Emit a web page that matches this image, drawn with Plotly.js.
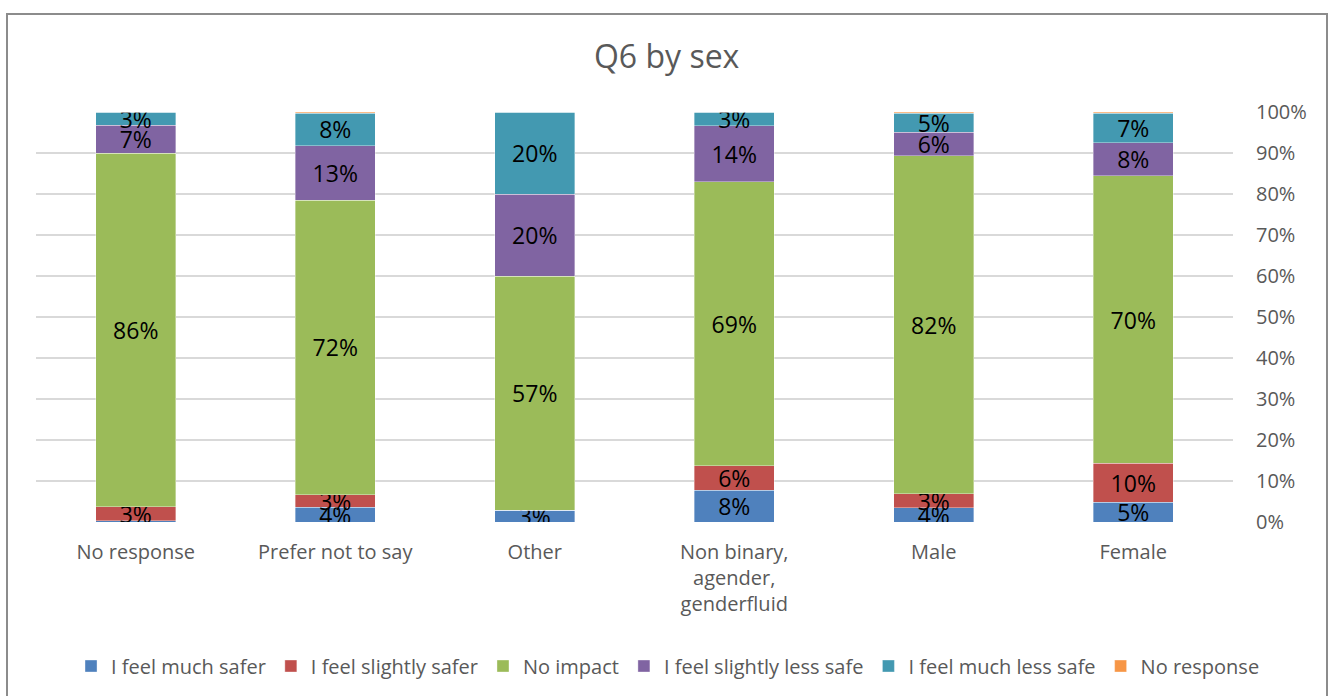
<!DOCTYPE html>
<html><head><meta charset="utf-8">
<script src="https://cdn.plot.ly/plotly-3.0.1.min.js"></script>
<style>
html,body{margin:0;padding:0;background:#fff;overflow:hidden;}
#chart{position:absolute;left:0;top:0;width:1328px;height:696px;}
#frame{position:absolute;left:6px;top:13px;width:1318px;height:700px;border:2px solid #8c8c8c;pointer-events:none;}
</style></head>
<body>
<div id="chart"></div>
<div id="frame"></div>
<script>
const categories = ["No response", "Prefer not to say", "Other", "Non binary,<br>agender,<br>genderfluid", "Male", "Female"];
const seriesNames = ["I feel much safer", "I feel slightly safer", "No impact", "I feel slightly less safe", "I feel much less safe", "No response"];
const muchSafer     = [0.3, 3.6, 2.86, 7.7, 3.5, 4.8];
const slightlySafer = [3.4, 3.1, 0, 6.0, 3.4, 9.5];
const noImpact      = [86.2, 71.8, 57.14, 69.3, 82.4, 70.1];
const slightlyLess  = [6.9, 13.3, 20, 13.6, 5.8, 8.1];
const muchLess      = [3.2, 7.9, 20, 3.4, 4.6, 7.2];
const noResponse    = [0, 0.3, 0, 0, 0.3, 0.3];
const colors = ["#4F81BD", "#C0504D", "#9BBB59", "#8064A2", "#4399B1", "#F79646"];

const font = "'Open Sans', 'Liberation Sans', sans-serif";
const series = [muchSafer, slightlySafer, noImpact, slightlyLess, muchLess, noResponse];
const traces = series.map((vals, i) => ({
  type: "bar",
  name: seriesNames[i],
  x: categories,
  y: vals.map(v => v / 100),
  text: vals.map(v => Math.round(v) >= 1 ? Math.round(v) + "%" : ""),
  textposition: "inside",
  insidetextanchor: "middle",
  constraintext: "none",
  textangle: 0,
  textfont: {family: font, size: 23, color: "#000"},
  marker: {color: colors[i], line: {color: "rgba(255,255,255,0.6)", width: 0.6}},
  hoverinfo: "x+y+name"
}));

const layout = {
  width: 1328, height: 696,
  margin: {l: 36, r: 95, t: 112, b: 173},
  paper_bgcolor: "#fff", plot_bgcolor: "#fff",
  barmode: "stack",
  bargap: 0.6,
  title: {text: "Q6 by sex", x: 0.502, xref: "container", xanchor: "center", y: 0.918, yanchor: "middle",
          font: {family: font, size: 32, color: "#595959"}},
  font: {family: font, color: "#595959", size: 20},
  xaxis: {type: "category", showgrid: false, showline: false, zeroline: false, ticks: "",
          tickfont: {family: font, size: 20, color: "#595959"}, ticklabelstandoff: 16},
  yaxis: {side: "right", range: [0, 1], tickvals: [0,0.1,0.2,0.3,0.4,0.5,0.6,0.7,0.8,0.9,1],
          tickformat: ".0%", showgrid: true, gridcolor: "#d9d9d9", gridwidth: 1.5,
          zeroline: false, showline: false, ticks: "",
          tickfont: {family: font, size: 20, color: "#595959"}, ticklabelstandoff: 22},
  showlegend: true,
  legend: {orientation: "h", x: 0.528, xanchor: "center", y: -0.348, yanchor: "middle",
           font: {family: font, size: 20, color: "#595959"}, traceorder: "normal"}
};

Plotly.newPlot("chart", traces, layout, {displayModeBar: false, staticPlot: true});
</script>
</body></html>
